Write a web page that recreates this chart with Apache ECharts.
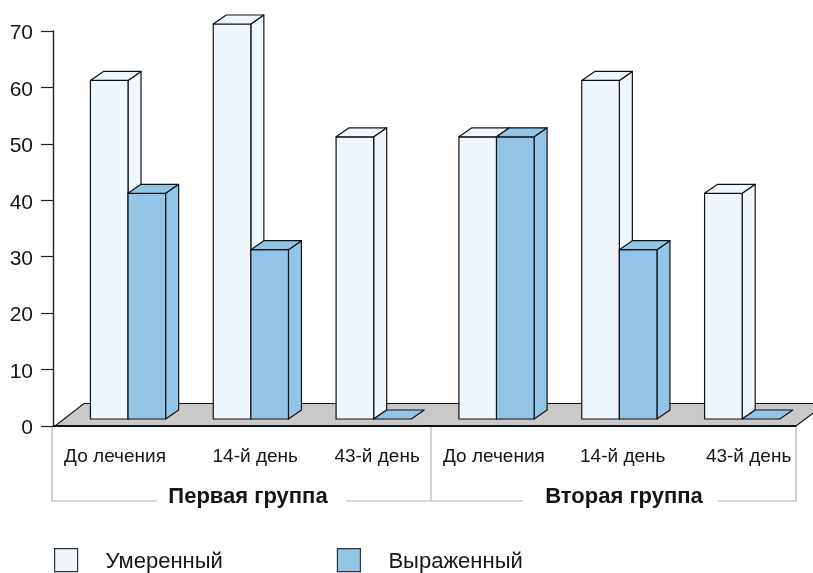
<!DOCTYPE html>
<html><head><meta charset="utf-8">
<style>html,body{margin:0;padding:0;background:#fff}#c{width:813px;height:573px}</style>
<script src="https://cdn.jsdelivr.net/npm/echarts@6/dist/echarts.min.js"></script>
</head><body><div id="c"></div>
<script>
const categories = ['До лечения','14-й день','43-й день','До лечения','14-й день','43-й день'];
const groups = ['Первая группа','Вторая группа'];
const moderate = [60,70,50,50,60,40];
const severe = [40,30,0,50,30,0];
const seriesNames = ['Умеренный','Выраженный'];
const yTicks = {min:0,max:70,interval:10};

// layout (not data)
const FONT = '"Liberation Sans", Arial, sans-serif';
const INK = '#151515', LIGHT = '#eff6fc', BLUE = '#93c6e6', FLOOR = '#c9c9c9', RULE = '#b4b4b4';
const G = {left:53, top:31, width:737, bottom:147};
const BAR_W = 37.6, SHIFT = 13.6, LIFT = 7, DX = 13, DY = 9;
const labelShift = [0.6,18,17,11,17,20];

function barItem(serieIdx, color){
  return function(params, api){
    const i = api.value(0), v = api.value(1);
    const p0 = api.coord([i,0]), p1 = api.coord([i,v]);
    const x0 = p0[0] + SHIFT + (serieIdx-1)*BAR_W, x1 = x0 + BAR_W;
    const yb = p0[1]-LIFT, yt = p1[1]-LIFT;
    const style = {fill:color, stroke:'#111', lineWidth:1.2, lineJoin:'round'};
    const poly = pts => ({type:'polygon', shape:{points:pts}, style});
    const children = [];
    if (v>0){
      children.push(poly([[x1,yt],[x1+DX,yt-DY],[x1+DX,yb-DY],[x1,yb]]));
      children.push(poly([[x0,yt],[x1,yt],[x1,yb],[x0,yb]]));
    }
    children.push(poly([[x0,yt],[x0+DX,yt-DY],[x1+DX,yt-DY],[x1,yt]]));
    return {type:'group', children};
  };
}
function floorItem(params, api){
  const cs = params.coordSys;
  const y = cs.y+cs.height, l = cs.x+2, r = cs.x+cs.width+6;
  return {type:'group', children:[
    {type:'polygon', shape:{points:[[l,y],[l+29,y-22.5],[r+30,y-22.5],[r,y]]},
     style:{fill:FLOOR, stroke:'#111', lineWidth:1.1}},
    {type:'line', shape:{x1:cs.x,y1:y,x2:r,y2:y}, style:{stroke:'#111',lineWidth:1.8}}
  ]};
}
const chart = echarts.init(document.getElementById('c'), null, {renderer:'canvas'});
const rich = {};
labelShift.forEach((s,i)=>{ rich['c'+i] = {fontFamily:FONT,fontSize:19,color:INK,padding:[0,0,0,2*s]}; });
chart.setOption({
  animation:false,
  backgroundColor:'#fff',
  textStyle:{fontFamily:FONT},
  grid:G,
  xAxis:{type:'category',data:categories.map((c,i)=>i+'|'+c),
    axisLine:{show:false},axisTick:{show:false},
    axisLabel:{interval:0,margin:21,
      formatter:v=>{const [i,t]=v.split('|');return '{c'+i+'|'+t+'}';},rich}},
  yAxis:{type:'value',min:yTicks.min,max:yTicks.max,interval:yTicks.interval,
    splitLine:{show:false},
    axisLine:{show:true,lineStyle:{color:'#222',width:1.4}},
    axisTick:{show:true,length:12,lineStyle:{color:'#222',width:1.2}},
    axisLabel:{margin:20,formatter:'{n|{value}}',
      rich:{n:{fontFamily:FONT,fontSize:21,color:INK,padding:[5,0,0,0]}}}},
  legend:{left:54,top:548,padding:0,itemWidth:23,itemHeight:23,itemGap:114,selectedMode:false,
    formatter:'{n|{name}}',
    textStyle:{rich:{n:{fontFamily:FONT,fontSize:22,color:INK,padding:[4,0,0,23]}}},
    data:[
      {name:seriesNames[0],icon:'rect',itemStyle:{color:LIGHT,borderColor:'#333',borderWidth:1.2}},
      {name:seriesNames[1],icon:'rect',itemStyle:{color:BLUE,borderColor:'#333',borderWidth:1.2}}
    ]},
  series:[
    {type:'custom',name:'floor',renderItem:floorItem,data:[[0,0]],silent:true,z:1,clip:false},
    {type:'custom',name:seriesNames[0],renderItem:barItem(0,LIGHT),itemStyle:{color:LIGHT},
     data:moderate.map((v,i)=>[i,v]),encode:{x:0,y:1},z:2},
    {type:'custom',name:seriesNames[1],renderItem:barItem(1,BLUE),itemStyle:{color:BLUE},
     data:severe.map((v,i)=>[i,v]),encode:{x:0,y:1},z:3}
  ],
  graphic:[
    ...[[[52,426],[52,501],[157,501]],[[346,501],[431,501],[523,501]],[[431,426],[431,501]],[[718,501],[796,501],[796,426]]]
      .map(points=>({type:'polyline',shape:{points},style:{stroke:RULE,fill:null,lineWidth:1.2},z:0})),
    {type:'text',x:248,y:497,style:{text:groups[0],fontFamily:FONT,fontWeight:'bold',fontSize:22,fill:INK,align:'center',verticalAlign:'middle'}},
    {type:'text',x:624,y:497,style:{text:groups[1],fontFamily:FONT,fontWeight:'bold',fontSize:22,fill:INK,align:'center',verticalAlign:'middle'}}
  ]
});
</script></body></html>
